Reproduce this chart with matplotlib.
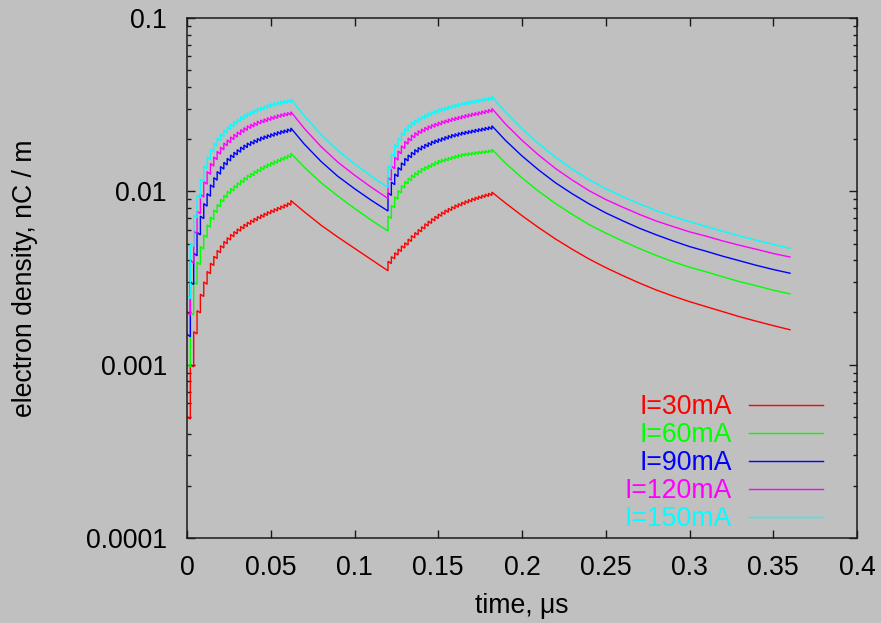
import numpy as np
import matplotlib
matplotlib.use("Agg")
import matplotlib.pyplot as plt
from matplotlib.lines import Line2D
from matplotlib.ticker import FixedLocator, NullLocator, NullFormatter

plt.rcParams["font.family"] = ["Liberation Sans", "DejaVu Sans"]

# ---------------------------------------------------------------------------
# Data: electron cloud line density (nC/m) versus time (us) for five beam
# currents.  Each bunch train is stored as the density right after each
# bunch passage; the gaps after each train are stored as decay samples.
# ---------------------------------------------------------------------------
labels = ["I=30mA", "I=60mA", "I=90mA", "I=120mA", "I=150mA"]
colors = ["#ff0000", "#00ff00", "#0000ff", "#ff00ff", "#00ffff"]

train_starts = [0.0, 0.12]      # us
bunch_spacing = 0.002            # us

red_train1 = [0.00050, 0.00100, 0.00155, 0.00205, 0.00255, 0.00300, 0.00345, 0.00385,
              0.00422, 0.00456, 0.00486, 0.00514, 0.00540, 0.00564, 0.00586, 0.00607,
              0.00627, 0.00646, 0.00664, 0.00682, 0.00699, 0.00716, 0.00732, 0.00748,
              0.00764, 0.00779, 0.00794, 0.00809, 0.00824, 0.00840, 0.00858, 0.00885]
green_train1 = [0.0010, 0.0020, 0.0030, 0.0039, 0.0048, 0.0056, 0.0064, 0.0071,
                0.0078, 0.0084, 0.0090, 0.0095, 0.0100, 0.0104, 0.0108, 0.0112,
                0.0116, 0.0120, 0.0124, 0.0127, 0.0131, 0.0134, 0.0138, 0.0141,
                0.0144, 0.0147, 0.0150, 0.0153, 0.0156, 0.0159, 0.0162, 0.0166]
blue_train1 = [0.0015, 0.0030, 0.0044, 0.0058, 0.0072, 0.0085, 0.0097, 0.0109,
               0.0120, 0.0130, 0.0139, 0.0147, 0.0155, 0.0162, 0.0168, 0.0174,
               0.0180, 0.0185, 0.0190, 0.0194, 0.0198, 0.0202, 0.0206, 0.0209,
               0.0212, 0.0215, 0.0218, 0.0221, 0.0224, 0.0226, 0.0229, 0.0232]
magenta_train1 = [0.0020, 0.0040, 0.0059, 0.0077, 0.0096, 0.0114, 0.0130, 0.0145,
                  0.0158, 0.0170, 0.0180, 0.0190, 0.0198, 0.0206, 0.0213, 0.0220,
                  0.0227, 0.0233, 0.0239, 0.0244, 0.0249, 0.0254, 0.0258, 0.0262,
                  0.0266, 0.0270, 0.0273, 0.0277, 0.0280, 0.0283, 0.0285, 0.0288]
cyan_train1 = [0.0025, 0.0050, 0.0073, 0.0095, 0.0118, 0.0140, 0.0158, 0.0175,
               0.0190, 0.0203, 0.0215, 0.0226, 0.0236, 0.0245, 0.0254, 0.0262,
               0.0270, 0.0277, 0.0284, 0.0290, 0.0296, 0.0302, 0.0307, 0.0312,
               0.0317, 0.0321, 0.0325, 0.0329, 0.0332, 0.0335, 0.0338, 0.0341]

gap1_times = [0.07, 0.08, 0.09, 0.10, 0.11, 0.12]
red_gap1 = [0.00762, 0.00638, 0.00545, 0.00469, 0.00404, 0.00348]
green_gap1 = [0.01378, 0.01121, 0.00940, 0.00797, 0.00682, 0.00590]
blue_gap1 = [0.01874, 0.01488, 0.01222, 0.01036, 0.00888, 0.00770]
magenta_gap1 = [0.02308, 0.01812, 0.01475, 0.01240, 0.01056, 0.00910]
cyan_gap1 = [0.02726, 0.02129, 0.01722, 0.01443, 0.01223, 0.01050]

red_train2 = [0.00395, 0.00420, 0.00442, 0.00464, 0.00485, 0.00505, 0.00530, 0.00555,
              0.00578, 0.00602, 0.00625, 0.00650, 0.00673, 0.00696, 0.00718, 0.00740,
              0.00760, 0.00780, 0.00798, 0.00816, 0.00834, 0.00850, 0.00866, 0.00882,
              0.00897, 0.00912, 0.00925, 0.00938, 0.00951, 0.00963, 0.00975, 0.00990]
green_train2 = [0.0072, 0.0083, 0.0093, 0.0101, 0.0108, 0.0114, 0.0119, 0.0124,
                0.0128, 0.0132, 0.0136, 0.0139, 0.0142, 0.0145, 0.0148, 0.0151,
                0.0153, 0.0155, 0.0157, 0.0159, 0.0161, 0.0163, 0.0165, 0.0166,
                0.0167, 0.0168, 0.0169, 0.0170, 0.0171, 0.0172, 0.0173, 0.0175]
blue_train2 = [0.0098, 0.0113, 0.0126, 0.0137, 0.0146, 0.0155, 0.0162, 0.0168,
               0.0174, 0.0179, 0.0183, 0.0187, 0.0191, 0.0195, 0.0198, 0.0201,
               0.0204, 0.0207, 0.0210, 0.0213, 0.0215, 0.0218, 0.0220, 0.0222,
               0.0224, 0.0226, 0.0228, 0.0230, 0.0232, 0.0234, 0.0236, 0.0239]
magenta_train2 = [0.0120, 0.0140, 0.0157, 0.0171, 0.0183, 0.0194, 0.0203, 0.0211,
                  0.0218, 0.0224, 0.0229, 0.0234, 0.0239, 0.0243, 0.0247, 0.0251,
                  0.0255, 0.0258, 0.0262, 0.0265, 0.0268, 0.0271, 0.0274, 0.0277,
                  0.0280, 0.0283, 0.0285, 0.0288, 0.0291, 0.0294, 0.0297, 0.0301]
cyan_train2 = [0.0140, 0.0165, 0.0186, 0.0203, 0.0218, 0.0231, 0.0242, 0.0251,
               0.0259, 0.0266, 0.0272, 0.0278, 0.0284, 0.0289, 0.0294, 0.0299,
               0.0303, 0.0307, 0.0311, 0.0315, 0.0319, 0.0322, 0.0325, 0.0328,
               0.0331, 0.0334, 0.0337, 0.0340, 0.0343, 0.0346, 0.0349, 0.0353]

gap2_times = [0.19, 0.20, 0.21, 0.22, 0.23, 0.24, 0.25, 0.26, 0.27,
              0.28, 0.29, 0.30, 0.31, 0.32, 0.33, 0.34, 0.35, 0.36]
red_gap2 = [0.00858, 0.00724, 0.00617, 0.00531, 0.00463, 0.00407, 0.00363, 0.00327, 0.00296,
            0.00270, 0.00249, 0.00231, 0.00216, 0.00202, 0.00189, 0.00178, 0.00168, 0.00159]
green_gap2 = [0.01459, 0.01195, 0.01000, 0.00850, 0.00736, 0.00643, 0.00574, 0.00517, 0.00468,
              0.00427, 0.00393, 0.00365, 0.00343, 0.00321, 0.00301, 0.00285, 0.00269, 0.00256]
blue_gap2 = [0.01973, 0.01600, 0.01327, 0.01120, 0.00968, 0.00847, 0.00751, 0.00677, 0.00613,
             0.00562, 0.00518, 0.00480, 0.00451, 0.00422, 0.00397, 0.00374, 0.00354, 0.00337]
magenta_gap2 = [0.02454, 0.01969, 0.01617, 0.01354, 0.01162, 0.01009, 0.00897, 0.00811, 0.00737,
                0.00675, 0.00627, 0.00584, 0.00551, 0.00517, 0.00488, 0.00463, 0.00438, 0.00418]
cyan_gap2 = [0.02874, 0.02295, 0.01882, 0.01572, 0.01343, 0.01168, 0.01035, 0.00932, 0.00847,
             0.00775, 0.00717, 0.00668, 0.00626, 0.00588, 0.00552, 0.00522, 0.00494, 0.00469]

# fractional density loss between two consecutive bunches inside a train
bunch_gap_loss = [0.030, 0.032, 0.034, 0.036, 0.038]

trains1 = [red_train1, green_train1, blue_train1, magenta_train1, cyan_train1]
gaps1 = [red_gap1, green_gap1, blue_gap1, magenta_gap1, cyan_gap1]
trains2 = [red_train2, green_train2, blue_train2, magenta_train2, cyan_train2]
gaps2 = [red_gap2, green_gap2, blue_gap2, magenta_gap2, cyan_gap2]

x_tick_values = [0, 0.05, 0.1, 0.15, 0.2, 0.25, 0.3, 0.35, 0.4]
x_tick_labels = ["0", "0.05", "0.1", "0.15", "0.2", "0.25", "0.3", "0.35", "0.4"]
y_tick_values = [1e-4, 1e-3, 1e-2, 1e-1]
y_tick_labels = ["0.0001", "0.001", "0.01", "0.1"]


def train_path(t0, tops, loss, ts, ys):
    """Append the saw-tooth of one bunch train: decay between bunches,
    then a jump at every bunch passage."""
    for k, top in enumerate(tops):
        t = t0 + k * bunch_spacing
        if k > 0:
            ts.append(t)
            ys.append(tops[k - 1] * (1.0 - loss))
        ts.append(t)
        ys.append(top)


def series_path(i):
    ts, ys = [], []
    train_path(train_starts[0], trains1[i], bunch_gap_loss[i], ts, ys)
    ts += gap1_times
    ys += gaps1[i]
    train_path(train_starts[1], trains2[i], bunch_gap_loss[i], ts, ys)
    ts += gap2_times
    ys += gaps2[i]
    return np.array(ts), np.array(ys)


# ---------------------------------------------------------------------------
W, H = 881, 623
bg = "#c0c0c0"
ink = "#1a1a1a"
fs = 19.2

fig = plt.figure(figsize=(W / 100, H / 100), dpi=100, facecolor=bg)
ax_l, ax_r, ax_t, ax_b = 187, 857, 18, 538
ax = fig.add_axes([ax_l / W, 1 - ax_b / H, (ax_r - ax_l) / W, (ax_b - ax_t) / H])
ax.set_facecolor(bg)

for i in range(len(labels)):
    t, y = series_path(i)
    ax.plot(t, y, color=colors[i], lw=1.0, solid_joinstyle="miter")

ax.set_yscale("log")
ax.set_xlim(0, 0.4)
ax.set_ylim(1e-4, 0.1)

ax.xaxis.set_major_locator(FixedLocator(x_tick_values))
ax.set_xticklabels(x_tick_labels)
ax.xaxis.set_minor_locator(NullLocator())
ax.yaxis.set_major_locator(FixedLocator(y_tick_values))
ax.set_yticklabels(y_tick_labels)
minor_y = [m * 10.0 ** e for e in (-4, -3, -2) for m in range(2, 10)]
ax.yaxis.set_minor_locator(FixedLocator(minor_y))
ax.yaxis.set_minor_formatter(NullFormatter())

ax.tick_params(which="both", direction="in", top=True, right=True,
               color=ink, width=1.0, labelsize=fs, labelcolor="black")
ax.tick_params(which="major", length=5.8)
ax.tick_params(which="minor", length=2.9)
ax.tick_params(axis="x", pad=12.5)
ax.tick_params(axis="y", pad=14.5)
for sp in ax.spines.values():
    sp.set_color(ink)
    sp.set_linewidth(1.1)

fig.text(522 / W, 1 - 606 / H, "time, \u03bcs", ha="center", va="center", fontsize=fs)
fig.text(25 / W, 1 - 278 / H, "electron density, nC / m", ha="center", va="center",
         rotation=90, fontsize=fs)

# key: coloured label followed by a line sample
key_rows = [405, 433, 461, 489, 517]
for i, row in enumerate(key_rows):
    fig.text(731.5 / W, 1 - (row + 9) / H, labels[i], ha="right", va="baseline",
             color=colors[i], fontsize=fs)
    fig.add_artist(Line2D([749 / W, 823 / W], [1 - row / H, 1 - row / H],
                          color=colors[i], lw=1.0))

fig.savefig("out.png", dpi=100, facecolor=bg)
